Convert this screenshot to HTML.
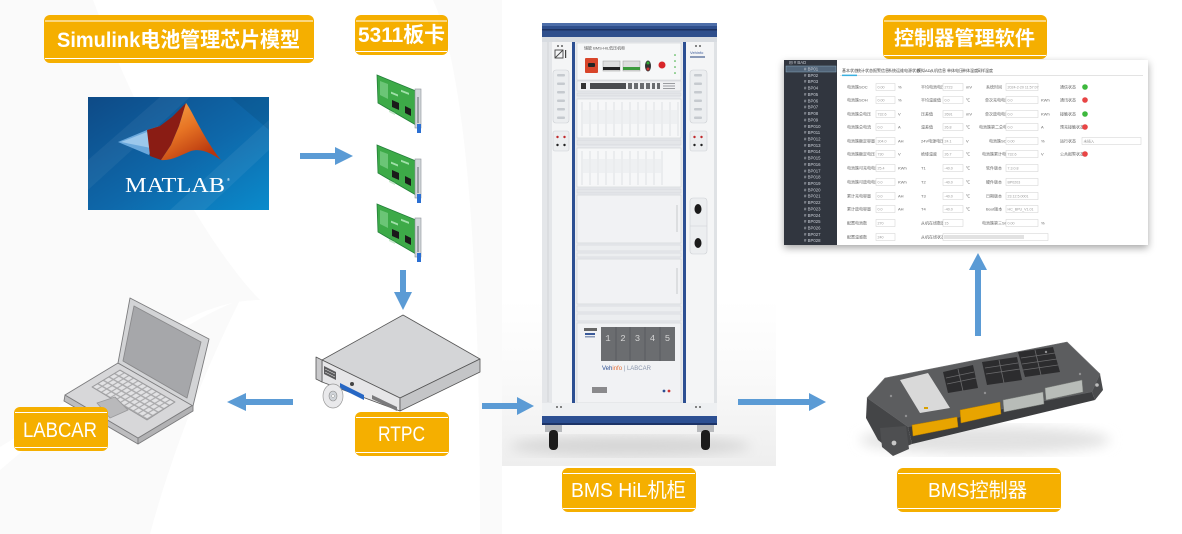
<!DOCTYPE html>
<html><head><meta charset="utf-8">
<style>
html,body{margin:0;padding:0;background:#fff;}
svg{display:block;}
.lb{font-family:"Liberation Sans","Noto Sans CJK SC",sans-serif;fill:#fff;}
.t{font-family:"Liberation Sans","Noto Sans CJK SC",sans-serif;}
</style></head>
<body>
<svg width="1182" height="534" viewBox="0 0 1182 534" xmlns="http://www.w3.org/2000/svg">
<defs>
  <linearGradient id="mlbg" x1="0" y1="0" x2="1" y2="1">
    <stop offset="0" stop-color="#0e4a86"/><stop offset="0.55" stop-color="#0e68aa"/><stop offset="1" stop-color="#0a8bcc"/>
  </linearGradient>
  <linearGradient id="peak" x1="0" y1="0" x2="0.6" y2="1">
    <stop offset="0" stop-color="#f7a64a"/><stop offset="0.5" stop-color="#e77424"/><stop offset="1" stop-color="#b8360e"/>
  </linearGradient>
  <linearGradient id="photo" x1="0" y1="0" x2="0" y2="1">
    <stop offset="0" stop-color="#ffffff"/><stop offset="0.5" stop-color="#f9f9f9"/><stop offset="1" stop-color="#eeeeee"/>
  </linearGradient>
  <filter id="sh" x="-10%" y="-10%" width="120%" height="130%">
    <feDropShadow dx="0" dy="3" stdDeviation="4" flood-color="#000" flood-opacity="0.35"/>
  </filter>
  <filter id="blur6"><feGaussianBlur stdDeviation="6"/></filter>
  <pattern id="kb" width="1" height="1" patternUnits="userSpaceOnUse" patternTransform="matrix(4.583 2.667 -5.6 3.4 120 370)">
    <rect x="0" y="0" width="1" height="1" fill="#a9a9ab"/>
    <rect x="0.12" y="0.12" width="0.76" height="0.76" fill="#e2e2e4"/>
  </pattern>
  <g id="card">
    <polygon points="0,0 39,16 39,50 1,28" fill="#3daa48" stroke="#23803a" stroke-width="0.8"/>
    <polygon points="3,6 11,9 11,24 3,20" fill="#7fd08a" opacity="0.7"/>
    <rect x="14" y="11" width="7" height="2" fill="#9fe0a8" transform="skewY(22)"/>
    <rect x="24" y="5" width="8" height="2" fill="#9fe0a8" transform="skewY(22)"/>
    <polygon points="15,25 22,28 22,35 15,32" fill="#1a1a1a"/>
    <polygon points="28,31 34,34 34,41 28,38" fill="#1a1a1a"/>
    <polygon points="12,35 18,38 18,40 12,37" fill="#c9e9cc"/>
    <rect x="38" y="14" width="6" height="39" fill="#d3d7db" stroke="#8b9096" stroke-width="0.6"/>
    <rect x="40" y="22" width="2" height="26" fill="#9aa0a6"/>
    <rect x="40" y="49" width="4" height="9" fill="#2b6fd2"/>
  </g>
</defs>

<!-- background -->
<rect width="1182" height="534" fill="#ffffff"/>
<path d="M0,0 L93,0 C150,150 220,260 260,300 C170,300 80,400 0,447 Z" fill="#fafafa"/>
<path d="M0,534 L0,470 C60,420 160,330 240,300 C200,380 170,460 150,534 Z" fill="#fafafa"/>
<path d="M433,0 L502,0 L502,534 L480,534 C480,300 470,80 433,0 Z" fill="#fafafa"/>

<!-- ========== Labels ========== -->
<g>
  <rect x="44" y="15" width="270" height="48" rx="6" fill="#f5af00"/>
  <rect x="45" y="20.5" width="268" height="1" fill="#fff"/>
  <rect x="45" y="58" width="268" height="1" fill="#fff"/>
  <text class="lb" x="57" y="47" font-size="21" font-weight="700" textLength="243" lengthAdjust="spacingAndGlyphs">Simulink电池管理芯片模型</text>
</g>
<g>
  <rect x="355" y="15" width="93" height="40" rx="6" fill="#f5af00"/>
  <rect x="356" y="20.5" width="91" height="1" fill="#fff"/>
  <rect x="356" y="51" width="91" height="1" fill="#fff"/>
  <text class="lb" x="358" y="42" font-size="21" font-weight="700" textLength="87" lengthAdjust="spacingAndGlyphs">5311板卡</text>
</g>
<g>
  <rect x="883" y="15" width="164" height="44" rx="6" fill="#f5af00"/>
  <rect x="884" y="20.5" width="162" height="1" fill="#fff"/>
  <rect x="884" y="55" width="162" height="1" fill="#fff"/>
  <text class="lb" x="894" y="45" font-size="20" font-weight="700" textLength="141" lengthAdjust="spacingAndGlyphs">控制器管理软件</text>
</g>

<!-- ========== MATLAB ========== -->
<g>
  <rect x="88" y="97" width="181" height="113" fill="url(#mlbg)"/>
  <polygon points="88,160 160,97 190,97 88,190" fill="#ffffff" opacity="0.05"/>
  <polygon points="170,210 269,120 269,150 205,210" fill="#ffffff" opacity="0.06"/>
  <polygon points="230,97 269,97 269,130" fill="#000" opacity="0.08"/>
  <path d="M118,142 L147,130 L160,126 L153,146 L149,155 Z" fill="#6aa8dc"/>
  <path d="M121,142 L147,132 L151,148 Z" fill="#9cc8ec"/>
  <path d="M147,130 L160,126 L172,117 L186,103 L179,126 L171,145 L161,160 L150,156 Z" fill="#8a1c14"/>
  <path d="M186,103 C192,110 203,138 221,160 C211,153 201,148 191,151 C181,155 171,161 161,160 L171,145 L179,126 Z" fill="url(#peak)"/>
  <text x="125" y="192" font-family="'Liberation Serif',serif" font-size="21" fill="#fff" textLength="100" lengthAdjust="spacingAndGlyphs">MATLAB</text>
  <text x="227" y="181" font-family="'Liberation Sans',sans-serif" font-size="4" fill="#fff">®</text>
</g>

<!-- ========== Cards ========== -->
<rect x="372" y="62" width="59" height="206" fill="#ffffff"/>
<use href="#card" x="377" y="75"/>
<use href="#card" x="377" y="145"/>
<use href="#card" x="377" y="204"/>

<!-- ========== Laptop ========== -->
<g stroke="#7b7b7d" stroke-width="0.9" stroke-linejoin="round">
  <polygon points="65,395 138,438 138,444 64,401" fill="#bdbdbf"/>
  <polygon points="138,438 193,405 193,411 138,444" fill="#b2b2b4"/>
  <polygon points="118,363 193,405 138,438 65,395" fill="#d7d7d9"/>
  <polygon points="92,387 120,370 175,402 147,420" fill="url(#kb)" stroke="#9a9a9c"/>
  <polygon points="97,403 115,397 128,410 110,418" fill="#b9b9bb" stroke="#9a9a9c"/>
  <polygon points="130,298 209,339 193,406 118,363" fill="#d3d4d6"/>
  <polygon points="134,306 201,342 187,398 123,361" fill="#a6a7aa" stroke="#8a8a8c"/>
</g>

<!-- ========== RTPC server ========== -->
<g stroke="#555" stroke-width="0.8" stroke-linejoin="round">
  <polygon points="403,315 480,359 400,398 322,360" fill="#d4d5d7"/>
  <polygon points="322,360 400,398 400,411 322,382" fill="#e6e6e8"/>
  <polygon points="400,398 480,359 480,372 400,411" fill="#c4c5c7"/>
  <polygon points="316,357 322,360 322,382 316,379" fill="#c9c9cb"/>
</g>
<g>
  <polygon points="324,366 336,372 336,380 324,374" fill="#5a5a5c"/>
  <line x1="325" y1="369" x2="335" y2="374" stroke="#ddd" stroke-width="0.6"/>
  <line x1="325" y1="372" x2="335" y2="377" stroke="#ddd" stroke-width="0.6"/>
  <polygon points="340,383 364,395 364,400 340,388" fill="#2767c4"/>
  <circle cx="352" cy="384" r="2" fill="#444"/>
  <polygon points="372,395 397,407 397,411 372,399" fill="#7a7a7c"/>
  <ellipse cx="333" cy="396" rx="10" ry="12" fill="#e9e9eb" stroke="#999" stroke-width="0.7"/>
  <ellipse cx="333" cy="396" rx="4" ry="5" fill="#cfd3d8" stroke="#8a8a8a" stroke-width="0.6"/>
  <circle cx="333" cy="396" r="1.4" fill="#fff" stroke="#888" stroke-width="0.4"/>
</g>

<g>
  <rect x="14" y="407" width="94" height="44" rx="6" fill="#f5af00"/>
  <rect x="15" y="412" width="92" height="1" fill="#fff"/>
  <rect x="15" y="447" width="92" height="1" fill="#fff"/>
  <text class="lb" x="23" y="437" font-size="21" textLength="74" lengthAdjust="spacingAndGlyphs">LABCAR</text>
</g>
<g>
  <rect x="355" y="412" width="94" height="44" rx="6" fill="#f5af00"/>
  <rect x="356" y="417" width="92" height="1" fill="#fff"/>
  <rect x="356" y="452" width="92" height="1" fill="#fff"/>
  <text class="lb" x="378" y="441" font-size="21" textLength="47" lengthAdjust="spacingAndGlyphs">RTPC</text>
</g>

<!-- ========== Cabinet ========== -->
<rect x="502" y="0" width="274" height="466" fill="#ffffff"/>
<rect x="502" y="300" width="274" height="166" fill="url(#photo)"/>
<ellipse cx="630" cy="446" rx="120" ry="10" fill="#d6d6d6" filter="url(#blur6)"/>
<g>
  <rect x="542" y="37" width="175" height="380" fill="#eceef0"/>
  <rect x="542" y="23" width="175" height="14" fill="#2f4f8c"/>
  <rect x="542" y="23" width="175" height="3" fill="#4d6ea9"/>
  <rect x="542" y="29" width="175" height="1.5" fill="#1c3160"/>
  <rect x="542" y="37" width="175" height="5" fill="#d8dce1"/>
  <rect x="542" y="42" width="10" height="374" fill="#e4e6e9"/>
  <line x1="548" y1="42" x2="548" y2="402" stroke="#cdd0d4" stroke-width="0.8"/>
  <rect x="552" y="42" width="20" height="374" fill="#f4f5f6"/>
  <rect x="686" y="42" width="28" height="374" fill="#f4f5f6"/>
  <rect x="714" y="42" width="3" height="374" fill="#dfe2e5"/>
  <rect x="575" y="42" width="108" height="372" fill="#e9ebee"/>
  <rect x="572" y="42" width="3" height="372" fill="#2c4f92"/>
  <rect x="683" y="42" width="3" height="372" fill="#2c4f92"/>
  <!-- left column -->
  <circle cx="558" cy="46" r="0.9" fill="#333"/><circle cx="562" cy="46" r="0.9" fill="#333"/>
  <rect x="555" y="50" width="8" height="8" fill="none" stroke="#444" stroke-width="0.9"/>
  <line x1="555" y1="58" x2="563" y2="50" stroke="#444" stroke-width="0.9"/>
  <rect x="565" y="50" width="1.2" height="8" fill="#444"/>
  <rect x="553" y="70" width="16" height="53" rx="3" fill="#eceef0" stroke="#cdd0d4" stroke-width="0.6"/>
  <g fill="#c6cacf"><rect x="557" y="74" width="8" height="2.5" rx="1"/><rect x="557" y="82.5" width="8" height="2.5" rx="1"/><rect x="557" y="91" width="8" height="2.5" rx="1"/><rect x="557" y="99.5" width="8" height="2.5" rx="1"/><rect x="557" y="108" width="8" height="2.5" rx="1"/><rect x="557" y="116.5" width="8" height="2.5" rx="1"/></g>
  <rect x="553" y="131" width="16" height="20" rx="2" fill="#eceef0" stroke="#cdd0d4" stroke-width="0.6"/>
  <circle cx="557.5" cy="137" r="1.2" fill="#c0282a"/><circle cx="564.5" cy="137" r="1.2" fill="#c0282a"/>
  <circle cx="557.5" cy="145" r="1.2" fill="#222"/><circle cx="564.5" cy="145" r="1.2" fill="#222"/>
  <!-- right column -->
  <circle cx="696" cy="46" r="0.9" fill="#333"/><circle cx="700" cy="46" r="0.9" fill="#333"/>
  <text x="690" y="54" font-family="'Liberation Sans',sans-serif" font-size="4" fill="#3a5a9a">Vehinfo</text>
  <rect x="690" y="56" width="15" height="2" fill="#8a9ab8"/>
  <rect x="690" y="70" width="17" height="53" rx="3" fill="#eceef0" stroke="#cdd0d4" stroke-width="0.6"/>
  <g fill="#c6cacf"><rect x="694" y="74" width="8" height="2.5" rx="1"/><rect x="694" y="82.5" width="8" height="2.5" rx="1"/><rect x="694" y="91" width="8" height="2.5" rx="1"/><rect x="694" y="99.5" width="8" height="2.5" rx="1"/><rect x="694" y="108" width="8" height="2.5" rx="1"/><rect x="694" y="116.5" width="8" height="2.5" rx="1"/></g>
  <rect x="690" y="131" width="17" height="20" rx="2" fill="#eceef0" stroke="#cdd0d4" stroke-width="0.6"/>
  <circle cx="694.5" cy="137" r="1.2" fill="#c0282a"/><circle cx="701.5" cy="137" r="1.2" fill="#c0282a"/>
  <circle cx="694.5" cy="145" r="1.2" fill="#222"/><circle cx="701.5" cy="145" r="1.2" fill="#222"/>
  <rect x="690" y="198" width="17" height="56" rx="3" fill="#eceef0" stroke="#cdd0d4" stroke-width="0.6"/>
  <line x1="690" y1="226" x2="707" y2="226" stroke="#cdd0d4" stroke-width="0.6"/>
  <ellipse cx="698" cy="209" rx="3.5" ry="5" fill="#1a1a1a"/>
  <ellipse cx="698" cy="243" rx="3.5" ry="5" fill="#1a1a1a"/>
  <!-- module 1 -->
  <rect x="577" y="43" width="104" height="37" fill="#f6f7f8" stroke="#cdd0d4" stroke-width="0.6"/>
  <text x="584" y="49.5" font-family="'Liberation Sans','Noto Sans CJK SC',sans-serif" font-size="4" fill="#555">储能 BMS-HiL低压机柜</text>
  <rect x="585" y="58" width="13" height="15" rx="1" fill="#d8452a"/>
  <rect x="588" y="63" width="7" height="4" rx="1" fill="#222"/>
  <rect x="603" y="61" width="17" height="10" fill="#dedede" stroke="#999" stroke-width="0.5"/>
  <rect x="603" y="67" width="17" height="3" fill="#222"/>
  <rect x="623" y="61" width="17" height="10" fill="#dedede" stroke="#999" stroke-width="0.5"/>
  <rect x="623" y="67" width="17" height="3" fill="#3c9a3c"/>
  <ellipse cx="648" cy="66" rx="3" ry="5.5" fill="#333"/>
  <circle cx="648" cy="63" r="1.5" fill="#3a3"/><circle cx="648" cy="69" r="1.5" fill="#c33"/>
  <circle cx="662" cy="65" r="3.5" fill="#d8262a"/>
  <g fill="#3a3"><circle cx="675" cy="55" r="0.8"/><circle cx="675" cy="61" r="0.8"/><circle cx="675" cy="67" r="0.8"/><circle cx="675" cy="73" r="0.8"/></g>
  <!-- module 2 -->
  <rect x="577" y="81" width="104" height="10" fill="#f0f1f3" stroke="#cdd0d4" stroke-width="0.6"/>
  <rect x="581" y="83" width="5" height="6" fill="#333"/>
  <rect x="590" y="83" width="36" height="6" fill="#4a4c50"/>
  <g fill="#6a6c70"><rect x="628" y="83" width="4" height="6"/><rect x="634" y="83" width="4" height="6"/><rect x="640" y="83" width="4" height="6"/><rect x="646" y="83" width="4" height="6"/><rect x="652" y="83" width="3" height="6"/><rect x="657" y="83" width="3" height="6"/></g>
  <g fill="#9a9ca0"><rect x="663" y="83" width="12" height="1"/><rect x="663" y="85.5" width="12" height="1"/><rect x="663" y="88" width="12" height="1"/></g>
  <rect x="577" y="93" width="104" height="3" fill="#e4e6e9" stroke="#cdd0d4" stroke-width="0.5"/>
  <!-- card cage 1 -->
  <rect x="577" y="99" width="104" height="39" fill="#f6f7f8" stroke="#cdd0d4" stroke-width="0.6"/>
  <g stroke="#d6d9dc" stroke-width="0.7">
    <line x1="582" y1="102" x2="582" y2="136"/><line x1="590" y1="102" x2="590" y2="136"/><line x1="598" y1="102" x2="598" y2="136"/><line x1="606" y1="102" x2="606" y2="136"/><line x1="614" y1="102" x2="614" y2="136"/><line x1="622" y1="102" x2="622" y2="136"/><line x1="630" y1="102" x2="630" y2="136"/><line x1="638" y1="102" x2="638" y2="136"/><line x1="646" y1="102" x2="646" y2="136"/><line x1="654" y1="102" x2="654" y2="136"/><line x1="662" y1="102" x2="662" y2="136"/><line x1="670" y1="102" x2="670" y2="136"/><line x1="678" y1="102" x2="678" y2="136"/>
  </g>
  <rect x="582" y="110" width="96" height="14" fill="#e9ebee" opacity="0.6"/>
  <rect x="577" y="140" width="104" height="5" fill="#e4e6e9" stroke="#cdd0d4" stroke-width="0.5"/>
  <!-- card cage 2 -->
  <rect x="577" y="148" width="104" height="39" fill="#f6f7f8" stroke="#cdd0d4" stroke-width="0.6"/>
  <g stroke="#d6d9dc" stroke-width="0.7">
    <line x1="582" y1="151" x2="582" y2="185"/><line x1="590" y1="151" x2="590" y2="185"/><line x1="598" y1="151" x2="598" y2="185"/><line x1="606" y1="151" x2="606" y2="185"/><line x1="614" y1="151" x2="614" y2="185"/><line x1="622" y1="151" x2="622" y2="185"/><line x1="630" y1="151" x2="630" y2="185"/><line x1="638" y1="151" x2="638" y2="185"/><line x1="646" y1="151" x2="646" y2="185"/><line x1="654" y1="151" x2="654" y2="185"/><line x1="662" y1="151" x2="662" y2="185"/>
  </g>
  <rect x="582" y="159" width="80" height="14" fill="#e9ebee" opacity="0.6"/>
  <rect x="577" y="189" width="104" height="4" fill="#e4e6e9" stroke="#cdd0d4" stroke-width="0.5"/>
  <!-- blank panels -->
  <rect x="577" y="195" width="104" height="48" fill="#f1f2f4" stroke="#cdd0d4" stroke-width="0.6"/>
  <line x1="677" y1="205" x2="677" y2="232" stroke="#c6c9cd" stroke-width="1"/>
  <rect x="577" y="245" width="104" height="6" fill="#eceef0" stroke="#cdd0d4" stroke-width="0.5"/>
  <rect x="577" y="253" width="104" height="4" fill="#eceef0" stroke="#cdd0d4" stroke-width="0.5"/>
  <rect x="577" y="259" width="104" height="45" fill="#f1f2f4" stroke="#cdd0d4" stroke-width="0.6"/>
  <line x1="677" y1="268" x2="677" y2="294" stroke="#c6c9cd" stroke-width="1"/>
  <rect x="577" y="306" width="104" height="6" fill="#eceef0" stroke="#cdd0d4" stroke-width="0.5"/>
  <rect x="577" y="314" width="104" height="7" fill="#eceef0" stroke="#cdd0d4" stroke-width="0.5"/>
  <!-- bottom LABCAR module -->
  <rect x="577" y="323" width="104" height="80" fill="#f1f2f4" stroke="#cdd0d4" stroke-width="0.6"/>
  <rect x="584" y="328" width="13" height="3" fill="#666"/>
  <rect x="585" y="333" width="10" height="2" fill="#3a5a9a"/>
  <rect x="585" y="336" width="10" height="1.5" fill="#8a9ab8"/>
  <rect x="601" y="327" width="74" height="34" fill="#6b6d70"/>
  <g stroke="#5a5c5f" stroke-width="1"><line x1="616" y1="327" x2="616" y2="361"/><line x1="630" y1="327" x2="630" y2="361"/><line x1="645" y1="327" x2="645" y2="361"/><line x1="660" y1="327" x2="660" y2="361"/></g>
  <g font-family="'Liberation Mono',monospace" font-size="9" fill="#d4d4d4" text-anchor="middle">
    <text x="608" y="341">1</text><text x="623" y="341">2</text><text x="637.5" y="341">3</text><text x="652.5" y="341">4</text><text x="667.5" y="341">5</text>
  </g>
  <text x="602" y="370" font-family="'Liberation Sans',sans-serif" font-size="6" fill="#2d4f92">Veh<tspan fill="#e2703a">info</tspan><tspan fill="#8a96ad"> | LABCAR</tspan></text>
  <rect x="592" y="387" width="15" height="6" fill="#8a8a8c"/>
  <circle cx="664" cy="391" r="1.4" fill="#2c4f92"/><circle cx="669" cy="391" r="1.4" fill="#c33"/>
  <!-- base -->
  <rect x="542" y="403" width="175" height="13" fill="#eef0f2"/>
  <circle cx="557" cy="407" r="0.9" fill="#333"/><circle cx="561" cy="407" r="0.9" fill="#333"/>
  <circle cx="696" cy="407" r="0.9" fill="#333"/><circle cx="700" cy="407" r="0.9" fill="#333"/>
  <rect x="542" y="416" width="175" height="9" fill="#2c4f92"/>
  <rect x="542" y="423" width="175" height="2" fill="#1c3366"/>
  <!-- wheels -->
  <rect x="545" y="425" width="17" height="7" fill="#b8babd"/>
  <rect x="549" y="430" width="9" height="20" rx="4" fill="#1c1c1c"/>
  <rect x="697" y="425" width="17" height="7" fill="#b8babd"/>
  <rect x="701" y="430" width="9" height="20" rx="4" fill="#1c1c1c"/>
</g>

<g>
  <rect x="562" y="468" width="134" height="44" rx="6" fill="#f5af00"/>
  <rect x="563" y="473" width="132" height="1" fill="#fff"/>
  <rect x="563" y="508" width="132" height="1" fill="#fff"/>
  <text class="lb" x="571" y="497" font-size="20" textLength="115" lengthAdjust="spacingAndGlyphs">BMS HiL机柜</text>
</g>

<!-- ========== Software screenshot ========== -->
<g filter="url(#sh)">
  <rect x="784" y="60" width="364" height="185" fill="#ffffff"/>
</g>
<rect x="784" y="60" width="53" height="185" fill="#31363f"/>
<rect x="786" y="66" width="50" height="6" fill="#53667a" stroke="#86a6bc" stroke-width="0.5"/>
<g class="t" font-size="4.3" fill="#c8cdd5">
  <text x="789" y="64">⊟  # BAD</text>
  <text x="804" y="70.5"># BP01</text><text x="804" y="76.9"># BP02</text><text x="804" y="83.2"># BP03</text><text x="804" y="89.6"># BP04</text><text x="804" y="96"># BP05</text><text x="804" y="102.3"># BP06</text><text x="804" y="108.7"># BP07</text><text x="804" y="115"># BP08</text><text x="804" y="121.4"># BP09</text><text x="804" y="127.8"># BP010</text><text x="804" y="134.1"># BP011</text><text x="804" y="140.5"># BP012</text><text x="804" y="146.8"># BP013</text><text x="804" y="153.2"># BP014</text><text x="804" y="159.5"># BP015</text><text x="804" y="165.9"># BP016</text><text x="804" y="172.3"># BP017</text><text x="804" y="178.6"># BP018</text><text x="804" y="185"># BP019</text><text x="804" y="191.3"># BP020</text><text x="804" y="197.7"># BP021</text><text x="804" y="204"># BP022</text><text x="804" y="210.4"># BP023</text><text x="804" y="216.8"># BP024</text><text x="804" y="223.1"># BP025</text><text x="804" y="229.5"># BP026</text><text x="804" y="235.8"># BP027</text><text x="804" y="242.2"># BP028</text>
</g>
<g class="t" font-size="4" fill="#444">
  <text x="842" y="72">基本状态</text><text x="857" y="72">统计状态</text><text x="873" y="72">报警信息</text><text x="888" y="72">系统运维电源状态</text><text x="917" y="72">模拟AD</text><text x="930" y="72">从机信息</text><text x="947" y="72">单体电压</text><text x="962" y="72">单体温度</text><text x="977" y="72">采样温度</text>
</g>
<rect x="840" y="75" width="303" height="0.8" fill="#dcdcdc"/>
<rect x="842" y="74.6" width="15" height="1.5" fill="#3ab0e0"/>

<g class="t" font-size="4" fill="#666">
  <text x="847" y="88.5">电池簇SOC</text><text x="847" y="101.5">电池簇SOH</text><text x="847" y="115.5">电池簇总电压</text><text x="847" y="128.5">电池簇总电流</text><text x="847" y="142.5">电池簇额定容量</text><text x="847" y="155.5">电池簇额定电压</text><text x="847" y="169.5">电池簇可充电电量</text><text x="847" y="183.5">电池簇可放电电量</text><text x="847" y="197.5">累计充电容量</text><text x="847" y="210.5">累计放电容量</text><text x="847" y="224.5">配置电池数</text><text x="847" y="238.5">配置温感数</text>
  <text x="898" y="88.5">%</text><text x="898" y="101.5">%</text><text x="898" y="115.5">V</text><text x="898" y="128.5">A</text><text x="898" y="142.5">AH</text><text x="898" y="155.5">V</text><text x="898" y="169.5">KWh</text><text x="898" y="183.5">KWh</text><text x="898" y="197.5">AH</text><text x="898" y="210.5">AH</text>
  <text x="921" y="88.5">平均电池电压</text><text x="921" y="101.5">平均温度值</text><text x="921" y="115.5">压差值</text><text x="921" y="128.5">温差值</text><text x="921" y="142.5">24V电源电压</text><text x="921" y="155.5">绝缘温度</text><text x="921" y="169.5">T1</text><text x="921" y="183.5">T2</text><text x="921" y="197.5">T3</text><text x="921" y="210.5">T4</text><text x="921" y="224.5">从机在线数量</text><text x="921" y="238.5">从机在线状态</text>
  <text x="966" y="88.5">mV</text><text x="966" y="101.5">℃</text><text x="966" y="115.5">mV</text><text x="966" y="128.5">℃</text><text x="966" y="142.5">V</text><text x="966" y="155.5">℃</text><text x="966" y="169.5">℃</text><text x="966" y="183.5">℃</text><text x="966" y="197.5">℃</text><text x="966" y="210.5">℃</text>
  <text x="986" y="88.5">系统时间</text><text x="985" y="101.5">单次充电电量</text><text x="985" y="115.5">单次放电电量</text><text x="979" y="128.5">电池簇第二总电流</text><text x="989" y="142.5">电池簇SOE</text><text x="982" y="155.5">电池簇累计电压</text><text x="986" y="169.5">软件版本</text><text x="986" y="183.5">硬件版本</text><text x="986" y="197.5">日期版本</text><text x="986" y="210.5">Boot版本</text><text x="982" y="224.5">电池簇第三SOC</text>
  <text x="1041" y="101.5">KWh</text><text x="1041" y="115.5">KWh</text><text x="1041" y="128.5">A</text><text x="1041" y="142.5">%</text><text x="1041" y="155.5">V</text><text x="1041" y="224.5">%</text>
  <text x="1060" y="88.5">通信状态</text><text x="1060" y="101.5">通讯状态</text><text x="1060" y="115.5">接触状态</text><text x="1060" y="128.5">预充接触状态</text><text x="1060" y="142.5">运行状态</text><text x="1060" y="155.5">公共报警状态</text>
</g>
<g fill="#fff" stroke="#cfcfcf" stroke-width="0.5">
  <rect x="876" y="83.5" width="19" height="7"/><rect x="876" y="96.5" width="19" height="7"/><rect x="876" y="110.5" width="19" height="7"/><rect x="876" y="123.5" width="19" height="7"/><rect x="876" y="137.5" width="19" height="7"/><rect x="876" y="150.5" width="19" height="7"/><rect x="876" y="164.5" width="19" height="7"/><rect x="876" y="178.5" width="19" height="7"/><rect x="876" y="192.5" width="19" height="7"/><rect x="876" y="205.5" width="19" height="7"/><rect x="876" y="219.5" width="19" height="7"/><rect x="876" y="233.5" width="19" height="7"/>
  <rect x="943" y="83.5" width="20" height="7"/><rect x="943" y="96.5" width="20" height="7"/><rect x="943" y="110.5" width="20" height="7"/><rect x="943" y="123.5" width="20" height="7"/><rect x="943" y="137.5" width="20" height="7"/><rect x="943" y="150.5" width="20" height="7"/><rect x="943" y="164.5" width="20" height="7"/><rect x="943" y="178.5" width="20" height="7"/><rect x="943" y="192.5" width="20" height="7"/><rect x="943" y="205.5" width="20" height="7"/><rect x="943" y="219.5" width="20" height="7"/><rect x="943" y="233.5" width="105" height="7"/>
  <rect x="1006" y="83.5" width="32" height="7"/><rect x="1006" y="96.5" width="32" height="7"/><rect x="1006" y="110.5" width="32" height="7"/><rect x="1006" y="123.5" width="32" height="7"/><rect x="1006" y="137.5" width="32" height="7"/><rect x="1006" y="150.5" width="32" height="7"/><rect x="1006" y="164.5" width="32" height="7"/><rect x="1006" y="178.5" width="32" height="7"/><rect x="1006" y="192.5" width="32" height="7"/><rect x="1006" y="205.5" width="32" height="7"/><rect x="1006" y="219.5" width="32" height="7"/>
  <rect x="1082" y="137.5" width="59" height="7"/>
</g>
<rect x="944" y="235" width="80" height="4" fill="#e2e2e2"/>
<g class="t" font-size="3.6" fill="#999">
  <text x="877.5" y="88.5">0.00</text><text x="877.5" y="101.5">0.00</text><text x="877.5" y="115.5">732.6</text><text x="877.5" y="128.5">0.0</text><text x="877.5" y="142.5">304.0</text><text x="877.5" y="155.5">730</text><text x="877.5" y="169.5">25.4</text><text x="877.5" y="183.5">0.0</text><text x="877.5" y="197.5">0.0</text><text x="877.5" y="210.5">0.0</text><text x="877.5" y="224.5">270</text><text x="877.5" y="238.5">240</text>
  <text x="944.5" y="88.5">2723</text><text x="944.5" y="101.5">0.0</text><text x="944.5" y="115.5">2691</text><text x="944.5" y="128.5">26.8</text><text x="944.5" y="142.5">24.1</text><text x="944.5" y="155.5">26.7</text><text x="944.5" y="169.5">-40.0</text><text x="944.5" y="183.5">-40.0</text><text x="944.5" y="197.5">-40.0</text><text x="944.5" y="210.5">-40.0</text><text x="944.5" y="224.5">15</text>
  <text x="1007.5" y="88.5">2024-2-20 11:57:07</text><text x="1007.5" y="101.5">0.0</text><text x="1007.5" y="115.5">0.0</text><text x="1007.5" y="128.5">0.0</text><text x="1007.5" y="142.5">0.00</text><text x="1007.5" y="155.5">732.6</text><text x="1007.5" y="169.5">7.3.0.8</text><text x="1007.5" y="183.5">BP0203</text><text x="1007.5" y="197.5">23.12.5.0001</text><text x="1007.5" y="210.5">HC_BPU_V1.01</text><text x="1007.5" y="224.5">0.00</text>
  <text x="1083.5" y="142.5">未插入</text>
</g>
<g>
  <circle cx="1085" cy="87" r="2.8" fill="#3db83d"/>
  <circle cx="1085" cy="100" r="2.8" fill="#e84545"/>
  <circle cx="1085" cy="114" r="2.8" fill="#3db83d"/>
  <circle cx="1085" cy="127" r="2.8" fill="#e84545"/>
  <circle cx="1085" cy="154" r="2.8" fill="#e84545"/>
</g>

<!-- ========== BMS controller ========== -->
<ellipse cx="985" cy="440" rx="125" ry="14" fill="#e2e2e2" filter="url(#blur6)"/>
<g stroke-linejoin="round">
  <polygon points="867,398 885,378 1067,342 1100,374 1092,392 908,427" fill="#5c5d5f" stroke="#6e6f71" stroke-width="0.6"/>
  <polygon points="908,427 1092,392 1095,400 912,444" fill="#3c3d3f"/>
  <polygon points="867,398 908,427 912,444 893,452 878,440 866,418" fill="#444547"/>
  <polygon points="880,428 906,426 909,449 893,456 882,447" fill="#4e4f51"/>
  <circle cx="894" cy="443" r="2.4" fill="#c8c8c8"/>
  <polygon points="1092,392 1100,374 1103,390 1095,400" fill="#4a4b4d"/>
  <circle cx="1097" cy="385" r="1.8" fill="#bbb"/>
  <polygon points="900,380 928,373 950,408 920,413" fill="#d9d9d9"/>
  <rect x="924" y="407" width="4" height="2" fill="#d8a000"/>
  <polygon points="943,372 973,365 978,388 948,393" fill="#2c2c2e"/>
  <polygon points="982,362 1017,357 1022,380 987,385" fill="#2c2c2e"/>
  <polygon points="1018,352 1053,347 1060,372 1025,377" fill="#2c2c2e"/>
  <g stroke="#6a6a6c" stroke-width="0.8">
    <line x1="946" y1="378" x2="974" y2="372"/><line x1="947" y1="384" x2="976" y2="378"/>
    <line x1="985" y1="368" x2="1018" y2="363"/><line x1="986" y1="374" x2="1020" y2="369"/>
    <line x1="1021" y1="358" x2="1055" y2="353"/><line x1="1022" y1="364" x2="1057" y2="359"/><line x1="1023" y1="370" x2="1058" y2="365"/>
    <line x1="958" y1="369" x2="963" y2="391"/><line x1="999" y1="360" x2="1004" y2="383"/><line x1="1035" y1="350" x2="1041" y2="375"/>
  </g>
  <g fill="#909092"><circle cx="891" cy="396" r="1.2"/><circle cx="906" cy="416" r="1.2"/><circle cx="1046" cy="352" r="1.2"/><circle cx="1080" cy="374" r="1.2"/><circle cx="985" cy="393" r="1.2"/></g>
  <polygon points="912,425 957,417 958,427 913,436" fill="#e8a400" stroke="#b07a00" stroke-width="0.5"/>
  <polygon points="960,410 1000,402 1001,414 961,423" fill="#e8a400" stroke="#b07a00" stroke-width="0.5"/>
  <polygon points="1003,400 1043,392 1044,404 1004,412" fill="#b8bcb8" stroke="#7a7e7a" stroke-width="0.5"/>
  <polygon points="1045,388 1082,380 1083,392 1046,400" fill="#b8bcb8" stroke="#7a7e7a" stroke-width="0.5"/>
</g>

<g>
  <rect x="897" y="468" width="164" height="44" rx="6" fill="#f5af00"/>
  <rect x="898" y="473" width="162" height="1" fill="#fff"/>
  <rect x="898" y="508" width="162" height="1" fill="#fff"/>
  <text class="lb" x="928" y="497" font-size="20" textLength="99" lengthAdjust="spacingAndGlyphs">BMS控制器</text>
</g>

<!-- ========== Arrows (on top) ========== -->
<g fill="#5b9bd5">
  <rect x="300" y="153" width="37" height="6"/><polygon points="335,147 353,156 335,165"/>
  <rect x="400" y="270" width="6" height="24"/><polygon points="394,292 412,292 403,310"/>
  <rect x="244" y="399" width="49" height="6"/><polygon points="246,393 227,402 246,411"/>
  <rect x="482" y="403" width="37" height="6"/><polygon points="517,397 534,406 517,415"/>
  <rect x="738" y="399" width="73" height="6"/><polygon points="809,393 826,402 809,411"/>
  <rect x="975" y="268" width="6" height="68"/><polygon points="969,270 987,270 978,253"/>
</g>
</svg>
</body></html>
